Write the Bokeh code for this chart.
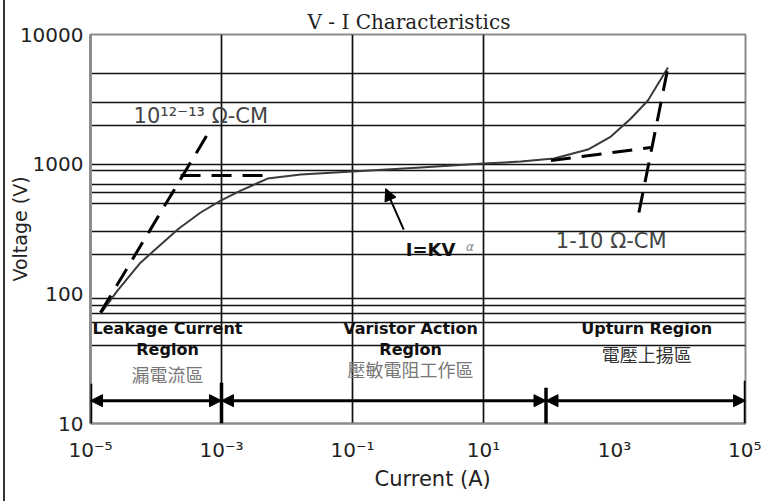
from bokeh.plotting import figure
from bokeh.models import FixedTicker, Label, Arrow, NormalHead, Title
from bokeh.embed import file_html
from bokeh.resources import INLINE

# ---------------- data ----------------
x_ticks = [1e-5, 1e-3, 1e-1, 1e1, 1e3, 1e5]
x_tick_labels = ["10⁻⁵", "10⁻³", "10⁻¹", "10¹", "10³", "10⁵"]
y_ticks = [10, 100, 1000, 10000]
y_tick_labels = ["10", "100", "1000", "10000"]
x_grid_values = [1e-3, 1e-1, 1e1]
y_grid_values = [5000, 3000, 2000, 1000, 900, 700, 600, 500, 300, 200,
                 92, 81, 70, 60, 40]

# V-I characteristic (solid curve)
vi_current = [1.42e-5, 2.58e-5, 5.8e-5, 2.21e-4, 4.8e-4, 9.7e-4, 1.96e-3,
              5.06e-3, 0.0162, 0.1, 1.1, 10, 37, 119, 393, 881, 1780, 3240, 6550]
vi_voltage = [70, 106, 174, 318, 424, 524, 625, 774, 832, 877, 942, 1010,
              1047, 1105, 1297, 1633, 2249, 3100, 5560]

# 10^12-13 ohm-cm (dashed, leakage side)
hi_res_current = [1.42e-5, 6.35e-4]
hi_res_voltage = [71.6, 1754]
hi_res_knee_current = [2.37e-4, 5.62e-3]
hi_res_knee_voltage = [817, 817]

# 1-10 ohm-cm (dashed, upturn side)
lo_res_knee_current = [107, 3600]
lo_res_knee_voltage = [1066, 1343]
lo_res_current = [2360, 6550]
lo_res_voltage = [424, 5560]

# operating regions
region_bounds = [1e-5, 1e-3, 90, 1e5]
region_arrow_voltage = 15
region_marker_top = [20.3, 20.6, 18.9, 21.4]
region_marker_bottom = [10, 10, 9.6, 10]
region_title = ["Leakage Current", "Varistor Action", "Upturn Region"]
region_title2 = ["Region", "Region", ""]
region_title_zh = ["漏電流區", "壓敏電阻工作區", "電壓上揚區"]

# ---------------- figure ----------------
SANS = "DejaVu Sans"
p = figure(width=758, height=501, x_axis_type="log", y_axis_type="log",
           x_range=(1e-5, 1e5), y_range=(10, 10000),
           output_backend="svg", toolbar_location=None,
           min_border_left=85, min_border_right=18,
           min_border_top=34, min_border_bottom=78,
           styles={"margin-left": "3px", "border-left": "2px solid #333333"})
p.background_fill_color = "white"
p.border_fill_color = "white"
p.outline_line_color = "#8c8c8c"
p.outline_line_width = 2

p.title.text = "V - I  Characteristics"
p.title.align = "left"
p.title.offset = 217
p.title.text_font = "DejaVu Serif"
p.title.text_font_style = "normal"
p.title.text_font_size = "20px"
p.title.text_color = "#222222"
p.title.standoff = 2

p.add_layout(Title(text="Current (A)", align="left", offset=284,
                   text_font=SANS, text_font_style="normal",
                   text_font_size="21px", text_color="#222222", standoff=0),
             "below")

p.xaxis.ticker = FixedTicker(ticks=x_ticks)
p.xaxis.major_label_overrides = dict(zip(x_ticks, x_tick_labels))
p.yaxis.ticker = FixedTicker(ticks=y_ticks)
p.yaxis.major_label_overrides = dict(zip(y_ticks, y_tick_labels))
for ax in (p.xaxis, p.yaxis):
    ax.major_tick_line_color = None
    ax.minor_tick_line_color = None
    ax.axis_line_color = "#8c8c8c"
    ax.major_label_text_font = SANS
    ax.major_label_text_font_size = "20px"
    ax.major_label_text_color = "#222222"
p.yaxis.major_tick_out = 0
p.yaxis.major_tick_in = 0
p.yaxis.minor_tick_out = 0
p.yaxis.minor_tick_in = 0
p.yaxis.axis_line_width = 3
p.xaxis.axis_line_width = 2
p.yaxis.major_label_standoff = 7
p.xaxis.major_label_standoff = 8

p.yaxis.axis_label = "Voltage (V)"
p.yaxis.axis_label_text_font = SANS
p.yaxis.axis_label_text_font_style = "normal"
p.yaxis.axis_label_text_font_size = "19px"
p.yaxis.axis_label_text_color = "#222222"
p.yaxis.axis_label_standoff = -14

p.xgrid.ticker = FixedTicker(ticks=x_grid_values)
p.ygrid.ticker = FixedTicker(ticks=y_grid_values)
p.grid.grid_line_color = "#111111"
p.grid.grid_line_width = 1.7
p.grid.grid_line_alpha = 1.0

# ---------------- curves ----------------
p.line(vi_current, vi_voltage, line_color="#3a3a3a", line_width=2)
dash = "20 11"
p.line(hi_res_current, hi_res_voltage, line_color="black", line_width=3, line_dash=dash)
p.line(hi_res_knee_current, hi_res_knee_voltage, line_color="black", line_width=3, line_dash=dash)
p.line(lo_res_knee_current, lo_res_knee_voltage, line_color="black", line_width=3, line_dash=dash)
p.line(lo_res_current, lo_res_voltage, line_color="black", line_width=3, line_dash=dash)

# ---------------- region arrows ----------------
for a, b in zip(region_bounds[:-1], region_bounds[1:]):
    p.add_layout(Arrow(x_start=a, y_start=region_arrow_voltage,
                       x_end=b, y_end=region_arrow_voltage,
                       start=NormalHead(size=12, fill_color="black", line_color="black"),
                       end=NormalHead(size=12, fill_color="black", line_color="black"),
                       line_width=3, line_color="black"))
for xb, yt, yb in zip(region_bounds, region_marker_top, region_marker_bottom):
    p.add_layout(Arrow(x_start=xb, y_start=yb, x_end=xb, y_end=yt,
                       start=None, end=None, line_width=3.5, line_color="black"))

# region texts
region_x = [1.5e-4, 0.77, 3100]
for i, cx in enumerate(region_x):
    p.add_layout(Label(x=cx, y=54.5, text=region_title[i], text_align="center",
                       text_baseline="middle", text_font=SANS, text_font_style="bold",
                       text_font_size="16px", text_color="#111111"))
    if region_title2[i]:
        p.add_layout(Label(x=cx, y=37.1, text=region_title2[i], text_align="center",
                           text_baseline="middle", text_font=SANS, text_font_style="bold",
                           text_font_size="16px", text_color="#111111"))
zh_y = [24.2, 26.5, 34.6]
zh_col = ["#777777", "#777777", "#333333"]
for i, cx in enumerate(region_x):
    p.add_layout(Label(x=cx, y=zh_y[i], text=region_title_zh[i], text_align="center",
                       text_baseline="middle", text_font="Noto Sans CJK TC",
                       text_font_size="18px", text_color=zh_col[i]))

# curve annotations
p.add_layout(Label(x=4.54e-5, y=2371, text="10¹²⁻¹³ Ω-CM", text_align="left",
                   text_baseline="middle", text_font=SANS, text_font_size="21px",
                   text_color="#444444"))
p.add_layout(Label(x=127, y=257, text="1-10 Ω-CM", text_align="left",
                   text_baseline="middle", text_font=SANS, text_font_size="21px",
                   text_color="#444444"))
p.add_layout(Label(x=0.65, y=219, text="I=KV", text_align="left",
                   text_baseline="middle", text_font=SANS, text_font_style="bold",
                   text_font_size="18px", text_color="#111111"))
p.add_layout(Label(x=5.4, y=231, text="α", text_align="left",
                   text_baseline="middle", text_font=SANS, text_font_style="italic",
                   text_font_size="12px", text_color="#888888"))
p.add_layout(Arrow(x_start=0.605, y_start=313, x_end=0.321, y_end=648,
                   end=NormalHead(size=12, fill_color="black", line_color="black"),
                   line_width=2, line_color="black"))

open("out.html", "w").write(file_html(p, INLINE))
